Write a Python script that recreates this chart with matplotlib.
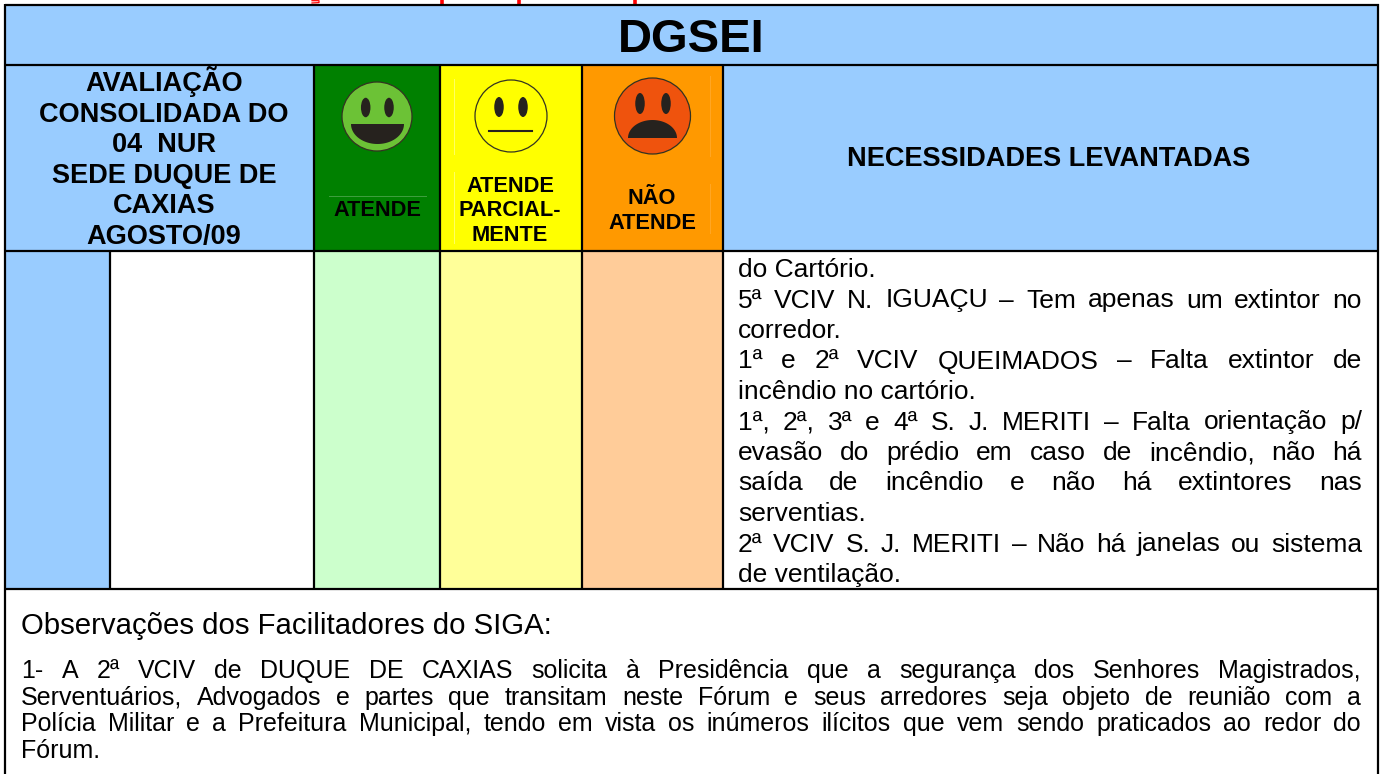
import matplotlib
matplotlib.use('Agg')
import matplotlib.pyplot as plt
import numpy as np
from matplotlib.patches import Rectangle, Ellipse, Polygon

W, H = 1381, 774
plt.rcParams['font.family'] = ['Liberation Sans', 'DejaVu Sans']

title = 'DGSEI'
avaliacao_lines = ['AVALIAÇÃO', 'CONSOLIDADA DO', '04  NUR', 'SEDE DUQUE DE', 'CAXIAS', 'AGOSTO/09']
col_labels = [['ATENDE'], ['ATENDE', 'PARCIAL-', 'MENTE'], ['NÃO', 'ATENDE']]
necessidades = 'NECESSIDADES LEVANTADAS'
obs_title = 'Observações dos Facilitadores do SIGA:'

# (text, justified)
right_lines = [
    ('do Cartório.', False),
    ('5ª VCIV N. IGUAÇU – Tem apenas um extintor no', True),
    ('corredor.', False),
    ('1ª e 2ª VCIV QUEIMADOS – Falta extintor de', True),
    ('incêndio no cartório.', False),
    ('1ª, 2ª, 3ª e 4ª S. J. MERITI – Falta orientação p/', True),
    ('evasão do prédio em caso de incêndio, não há', True),
    ('saída de incêndio e não há extintores nas', True),
    ('serventias.', False),
    ('2ª VCIV S. J. MERITI – Não há janelas ou sistema', True),
    ('de ventilação.', False),
]
obs_lines = [
    ('1- A 2ª VCIV de DUQUE DE CAXIAS solicita à Presidência que a segurança dos Senhores Magistrados,', True),
    ('Serventuários, Advogados e partes que transitam neste Fórum e seus arredores seja objeto de reunião com a', True),
    ('Polícia Militar e a Prefeitura Municipal, tendo em vista os inúmeros ilícitos que vem sendo praticados ao redor do', True),
    ('Fórum.', False),
]

blue = '#99ccff'
head_cols = ['#008000', '#ffff00', '#ff9900']
body_cols = ['#ccffcc', '#ffff99', '#ffcc99']
face_cols = ['#6cc236', '#ffff00', '#ef530d']
dark = '#26221e'

fig = plt.figure(figsize=(W / 100, H / 100), dpi=100)
ax = fig.add_axes([0, 0, 1, 1])
ax.set_xlim(0, W)
ax.set_ylim(H, 0)
ax.axis('off')


def box(x0, y0, x1, y1, color):
    ax.add_patch(Rectangle((x0, y0), x1 - x0, y1 - y0, fc=color, ec='none', zorder=1))


def hline(y, x0, x1):
    ax.plot([x0, x1], [y, y], color='black', lw=1.6, zorder=3, solid_capstyle='butt')


def vline(x, y0, y1):
    ax.plot([x, x], [y0, y1], color='black', lw=1.6, zorder=3, solid_capstyle='butt')


def half_ellipse(cx, y_flat, rx, ry, sign):
    # sign +1 bulges down (smile), -1 bulges up (frown)
    t = np.linspace(0, np.pi, 60)
    pts = np.column_stack([cx + rx * np.cos(t), y_flat + sign * ry * np.sin(t)])
    ax.add_patch(Polygon(pts, closed=True, fc=dark, ec='none', zorder=5))


def justified(text, x0, x1, y, size, justify):
    # one word at a time so the line fills the cell
    if not justify:
        ax.text(x0, y, text, fontsize=size, va='baseline', ha='left', zorder=4)
        return
    rend = fig.canvas.get_renderer()
    words = text.split()
    arts = [ax.text(0, y, w, fontsize=size, va='baseline', ha='left', zorder=4) for w in words]
    widths = [a.get_window_extent(rend).width for a in arts]
    gap = (x1 - x0 - sum(widths)) / (len(words) - 1)
    x = x0
    for a, w in zip(arts, widths):
        a.set_x(x)
        x += w + gap


# fills
box(5, 5, 1378, 64, blue)
box(5, 66, 314, 250, blue)
box(723, 66, 1378, 250, blue)
col_x = [315, 441, 583, 723]
for i in range(3):
    box(col_x[i], 66, col_x[i + 1], 250, head_cols[i])
    box(col_x[i], 252, col_x[i + 1], 588, body_cols[i])
box(5, 252, 110, 588, blue)

# grid
hline(5, 5, 1379)
hline(64.5, 5, 1379)
hline(251, 5, 1379)
hline(588.5, 5, 1379)
vline(5.5, 4, 774)
vline(1378, 4, 774)
for x in [314.5, 440.5, 582, 723.5]:
    vline(x, 65, 589)
vline(110, 251, 589)

# red heading is cut off by the top edge, only bits of descenders are left
ax.plot([312, 315.5, 319, 319, 312], [0.7, 0.7, 0.7, 2.6, 3], color='#ff0000', lw=0.9, zorder=0)
for x in [442, 519, 635]:
    ax.plot([x, x], [0, 4], color='#ff0000', lw=2.6, zorder=0, solid_capstyle='butt')

ax.text(691, 52, title, fontsize=34, fontweight='bold', ha='center', va='baseline', zorder=4)
for i, line in enumerate(avaliacao_lines):
    ax.text(164, 91 + i * 30.6, line, fontsize=19.5, fontweight='bold', ha='center', va='baseline', zorder=4)

label_y = [[216], [192, 216, 241], [204, 229]]
label_x = [377, 510, 652]
for i in range(3):
    for line, y in zip(col_labels[i], label_y[i]):
        ax.text(label_x[i], y, line, fontsize=15.7, fontweight='bold', ha='center', va='baseline', zorder=4)
ax.plot([329, 426], [196, 196], color='#3f9f3f', lw=0.7, zorder=2)
ax.text(1049, 166, necessidades, fontsize=19.5, fontweight='bold', ha='center', va='baseline', zorder=4)

# faint edges of the pasted pictures
for x, y0, y1, c in [(454, 79, 154, '#ffff66'), (454, 172, 243, '#ffff66'),
                     (710, 76, 156, '#ffa726'), (710, 184, 233, '#ffa726')]:
    ax.plot([x, x], [y0, y1], color=c, lw=0.7, zorder=2)

# faces
fx = [377, 511, 652.5]
fy = [116.5, 116, 116]
frx = [35, 36, 38]
fry = [34.5, 36, 38]
eye_x = [[365.7, 389], [499, 523], [640, 666]]
eye_y = [107.5, 107, 103.5]
eye_h = [19.5, 20, 21]
for i in range(3):
    ax.add_patch(Ellipse((fx[i], fy[i]), frx[i] * 2, fry[i] * 2, fc=face_cols[i], ec='#333322', lw=0.9, zorder=4))
    for ex in eye_x[i]:
        ax.add_patch(Ellipse((ex, eye_y[i]), 9.5, eye_h[i], fc=dark, ec='none', zorder=5))
half_ellipse(377.5, 124, 26.5, 20, 1)
ax.plot([489, 532], [131, 131], color=dark, lw=1.5, zorder=5)
half_ellipse(652.5, 138, 24.5, 18, -1)

for i, (line, j) in enumerate(right_lines):
    justified(line, 738, 1362, 277 + i * 30.5, 19, j)

ax.text(21, 634, obs_title, fontsize=21.2, va='baseline', zorder=4)
obs_y = [678, 705, 731, 758]
for (line, j), y in zip(obs_lines, obs_y):
    justified(line, 21, 1361, y, 18, j)

fig.savefig('out.png', dpi=100)
